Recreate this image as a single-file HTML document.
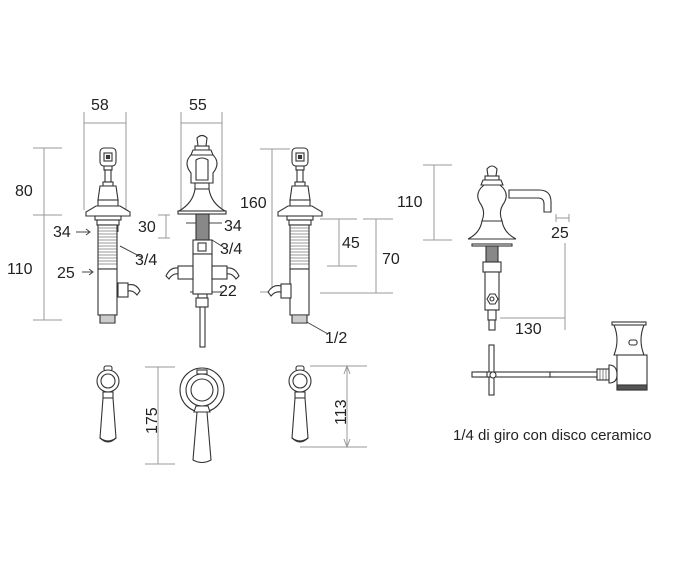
<!DOCTYPE html>
<html><head><meta charset="utf-8"><style>
html,body{margin:0;padding:0;background:#fff}
svg{display:block}
text{font-family:"Liberation Sans",Arial,sans-serif;fill:#222}
</style></head><body>
<svg width="683" height="573" viewBox="0 0 683 573" xmlns="http://www.w3.org/2000/svg">
<defs>
<g id="valve" stroke="#333" stroke-width="1.1" fill="#fff">
  <rect x="-8" y="0" width="16" height="18" rx="4"/>
  <rect x="-4" y="5" width="8" height="8" fill="none"/>
  <rect x="-1.5" y="7.5" width="3" height="3" fill="#444"/>
  <rect x="-4" y="18" width="8" height="4"/>
  <rect x="-3" y="22" width="6" height="12"/>
  <rect x="-5" y="34" width="10" height="4"/>
  <path d="M-8 38 h16 l2 14 h-20 z"/>
  <rect x="-10" y="52" width="20" height="6"/>
  <path d="M-12 58 h24 l10 6 v4 h-44 v-4 z"/>
  <rect x="-13" y="68" width="26" height="4"/>
  <rect x="-11" y="72" width="22" height="5"/>
  <rect x="-10" y="77" width="19" height="44"/>
  <g stroke-width="0.6">
    <path d="M-10 80h19M-10 83h19M-10 86h19M-10 89h19M-10 92h19M-10 95h19M-10 98h19M-10 101h19M-10 104h19M-10 107h19M-10 110h19M-10 113h19M-10 116h19"/>
  </g>
  <rect x="-10" y="121" width="19" height="46"/>
  <rect x="-8" y="167" width="15" height="8"/>
  <path d="M-8 169h15M-8 171h15M-8 173h15" stroke-width="0.6"/>
</g>
<g id="lever" stroke="#333" stroke-width="1.1" fill="#fff">
  <rect x="-4" y="0" width="8" height="5" rx="2"/>
  <circle cx="0" cy="15" r="11"/>
  <circle cx="0" cy="15" r="7"/>
  <rect x="-5" y="26" width="10" height="6"/>
  <path d="M-5 32 h10 l3 40 q-8 8 -16 0 z"/>
  <path d="M-8 72 q8 6 16 0" fill="none"/>
</g>
</defs>

<g stroke="#999" stroke-width="1" fill="none">
  <path d="M84 112V210M126 112V210M84 123H126"/>
  <path d="M181 112V210M222 112V210M181 123H222"/>
  <path d="M33 148H62M44 148V320M33 215H62M33 320H62"/>
  <path d="M158 215H170M166 215V238M158 238H170"/>
  <path d="M260 149H290M272 149V292M260 292H280"/>
  <path d="M320 219H357M339 219V266M327 266H357"/>
  <path d="M363 219H393M376 219V293M320 293H393"/>
  <path d="M423 165H452M434 165V240M423 240H452"/>
  <path d="M556 214V222M569 214V222M556 218H569"/>
  <path d="M565 243V330M500 318H565"/>
  <path d="M145 367H175M158 367V464M145 464H175"/>
  <path d="M310 366H367M347 366V447M300 447H367"/>
  <path d="M344 374L347 366L350 374M344 439L347 447L350 439"/>
</g>
<g stroke="#444" stroke-width="1" fill="none">
  <path d="M76 232H90M86 229L90 232L86 235M101 225V232M118 225V232"/>
  <path d="M82 272H93M89 269L93 272L89 275"/>
  <path d="M120 246L143 258"/>
  <path d="M212 240L228 250"/>
  <path d="M190 292H224"/>
  <path d="M305 321L328 334"/>
  <path d="M186 223H222"/>
</g>

<g font-size="16">
  <text x="91" y="110">58</text>
  <text x="189" y="110">55</text>
  <text x="15" y="196">80</text>
  <text x="7" y="274">110</text>
  <text x="53" y="237">34</text>
  <text x="57" y="278">25</text>
  <text x="135" y="265">3/4</text>
  <text x="138" y="232">30</text>
  <text x="224" y="231">34</text>
  <text x="220" y="254">3/4</text>
  <text x="219" y="296">22</text>
  <text x="240" y="208">160</text>
  <text x="342" y="248">45</text>
  <text x="382" y="264">70</text>
  <text x="325" y="343">1/2</text>
  <text x="397" y="207">110</text>
  <text x="551" y="238">25</text>
  <text x="515" y="334">130</text>
  <text transform="translate(157,434) rotate(-90)">175</text>
  <text transform="translate(346,425) rotate(-90)">113</text>
  <text x="453" y="440" font-size="15">1/4 di giro con disco ceramico</text>
</g>

<use href="#valve" x="108" y="148"/>
<use href="#valve" x="300" y="148"/>
<g stroke="#333" stroke-width="1.1" fill="#fff">
  <rect x="118" y="283" width="10" height="14"/>
  <path d="M128 285 q8 -2 12 6 l-3 4 q-4 -5 -9 -4z"/>
  <rect x="281" y="284" width="10" height="14"/>
  <path d="M281 286 q-8 -2 -13 6 l3 4 q4 -5 10 -4z"/>
</g>

<g stroke="#333" stroke-width="1.1" fill="#fff">
  <path d="M197 138 q5 -5 10 0 l-1 8 h-8z"/>
  <rect x="195" y="146" width="14" height="4"/>
  <path d="M193 150 h18 l2 5 h-22z"/>
  <path d="M191 155 q-8 8 0 18 v10 h22 v-10 q8 -10 0 -18z"/>
  <path d="M196 160 q6 -4 12 0 v20 h-12z"/>
  <rect x="195" y="183" width="14" height="6"/>
  <path d="M195 189 h14 q2 14 16 22 h-46 q14 -8 16 -22z"/>
  <rect x="178" y="211" width="48" height="3"/>
  <rect x="196" y="214" width="13" height="26" fill="#888"/>
  <rect x="193" y="240" width="19" height="14"/>
  <rect x="198" y="243" width="8" height="8"/>
  <rect x="193" y="254" width="19" height="40"/>
  <rect x="178" y="266" width="15" height="13"/>
  <rect x="212" y="266" width="15" height="13"/>
  <path d="M178 268 q-8 -1 -12 8 l3 3 q4 -6 9 -5z"/>
  <path d="M227 268 q8 -1 12 8 l-3 3 q-4 -6 -9 -5z"/>
  <rect x="198" y="294" width="9" height="4"/>
  <rect x="196" y="298" width="12" height="9"/>
  <rect x="200" y="307" width="5" height="40"/>
</g>

<g stroke="#333" stroke-width="1.1" fill="#fff">
  <path d="M487 169 q5 -6 10 0 l-1 7 h-8z"/>
  <rect x="485" y="176" width="14" height="4"/>
  <path d="M483 180 h18 l2 5 h-22z"/>
  <path d="M509 190 h30 q12 0 12 12 v10 h-7 v-8 q0 -6 -6 -6 h-29z"/>
  <path d="M484 185 q-10 8 -4 18 q6 8 2 18 h20 q-4 -10 2 -18 q6 -10 -4 -18z"/>
  <path d="M482 221 h20 q2 12 14 18 h-48 q12 -6 14 -18z"/>
  <rect x="472" y="244" width="40" height="2"/>
  <rect x="486" y="246" width="12" height="18" fill="#888"/>
  <rect x="483" y="262" width="18" height="10"/>
  <rect x="485" y="272" width="14" height="38"/>
  <path d="M487 299 l3 -5 h5 l3 5 l-3 5 h-5z"/>
  <circle cx="492" cy="299" r="2"/>
  <rect x="488" y="310" width="8" height="10"/>
  <rect x="489" y="320" width="6" height="10"/>
  <rect x="489" y="345" width="5" height="50"/>
  <rect x="476" y="372" width="78" height="5"/>
  <rect x="472" y="372" width="15" height="5"/>
  <rect x="550" y="372" width="48" height="5"/>
  <rect x="597" y="369" width="12" height="11"/>
  <path d="M600 369v11M603 369v11M606 369v11" stroke-width="0.6"/>
  <circle cx="493" cy="375" r="3"/>
  <path d="M614 325 h30 q-6 15 0 30 h-30 q6 -15 0 -30z"/>
  <rect x="612" y="322" width="34" height="3"/>
  <rect x="629" y="340" width="8" height="5" rx="2"/>
  <rect x="617" y="355" width="30" height="35"/>
  <rect x="617" y="385" width="30" height="5" fill="#555"/>
  <path d="M609 365 q8 0 8 10 q0 8 -8 8z"/>
</g>

<use href="#lever" x="108" y="366"/>
<use href="#lever" x="300" y="366"/>
<g stroke="#333" stroke-width="1.1" fill="#fff">
  <circle cx="202" cy="390" r="22"/>
  <circle cx="202" cy="390" r="16"/>
  <circle cx="202" cy="390" r="11"/>
  <rect x="197" y="370" width="10" height="4"/>
  <path d="M196 406 h12 l2 6 h-16z"/>
  <path d="M197 412 h10 l4 48 q-9 5 -18 0z"/>
</g>
</svg>
</body></html>
